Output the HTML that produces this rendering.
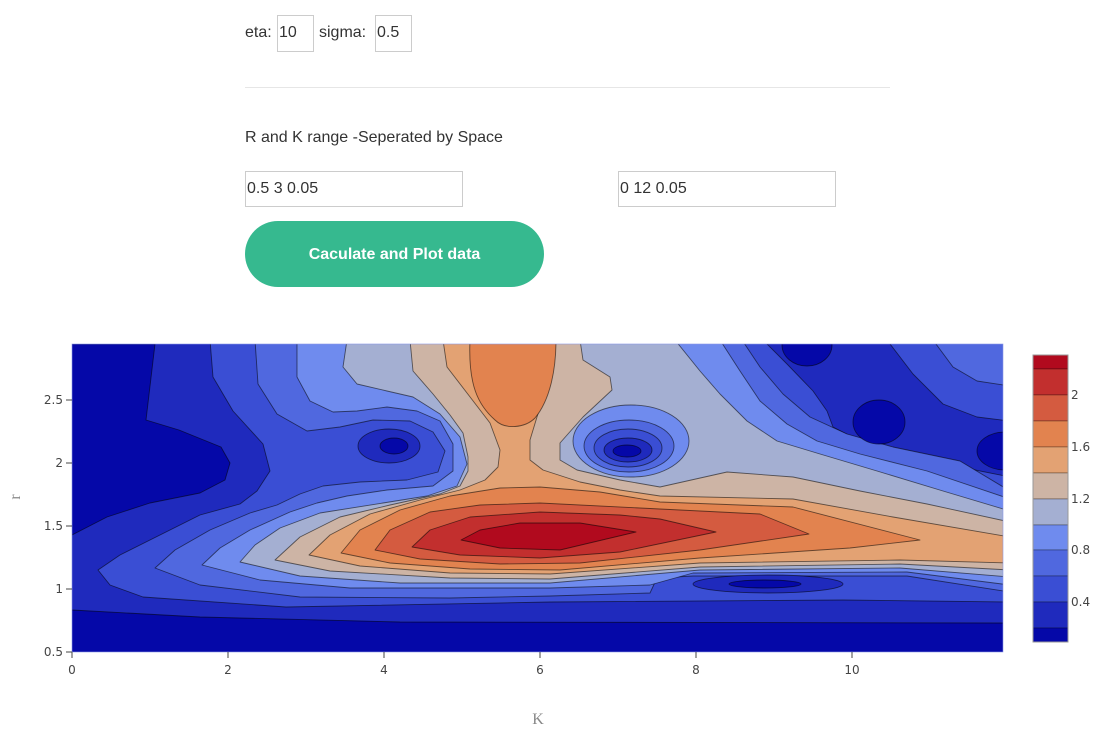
<!DOCTYPE html>
<html><head><meta charset="utf-8"><style>
body{margin:0;background:#fff;width:1111px;height:732px;overflow:hidden;position:relative;font-family:"Liberation Sans",Arial,sans-serif;color:#333}
.t{position:absolute;font-size:16px;white-space:nowrap}
.inp{position:absolute;border:1px solid #ccc;box-sizing:border-box;font-size:16px;color:#333;padding:0 1px;line-height:34px}
.btn{position:absolute;left:245px;top:221px;width:299px;height:66px;border-radius:33px;background:#36b98f;color:#fff;font-weight:bold;font-size:16px;text-align:center;line-height:68px}
svg{position:absolute;left:0;top:0}
</style></head><body>
<div class="t" style="left:245px;top:24px">eta:</div>
<div class="inp" style="left:277px;top:15px;width:37px;height:37px">10</div>
<div class="t" style="left:319px;top:24px">sigma:</div>
<div class="inp" style="left:375px;top:15px;width:37px;height:37px">0.5</div>
<div style="position:absolute;left:245px;top:87px;width:645px;height:1px;background:#e6e6e6"></div>
<div class="t" style="left:245px;top:129px">R and K range -Seperated by Space</div>
<div class="inp" style="left:245px;top:171px;width:218px;height:36px">0.5 3 0.05</div>
<div class="inp" style="left:618px;top:171px;width:218px;height:36px">0 12 0.05</div>
<div class="btn">Caculate and Plot data</div>

<svg width="1111" height="732" viewBox="0 0 1111 732">
<defs><clipPath id="c"><rect x="72" y="344" width="931" height="308"/></clipPath></defs>
<g clip-path="url(#c)" stroke="rgba(0,0,0,0.55)" stroke-width="0.9" stroke-linejoin="round">
<rect x="72" y="344" width="931" height="308" fill="#1f2abd" stroke="none"/>
<polygon fill="#0508a8" points="60,344 155,344 146,420 179,430 221,447 230,463 225,480 200,493 150,503 107,517 72,535 60,535"/>
<polygon fill="#0508a8" points="60,610 72,610 200,617 400,622 1010,623 1010,660 60,660"/>
<polygon fill="#3a4ed4" points="98,570 120,555 150,540 200,515 240,504 257,491 270,471 263,444 233,411 213,377 210,340 763,340 787,364 813,391 827,411 833,427 860,441 910,451 960,467 1010,477 1010,602 843,600 550,602 286,607 143,597 110,585"/>
<polygon fill="#3a4ed4" points="887,340 1010,340 1010,421 977,417 943,404 913,374"/>
<polygon fill="#5068df" points="155,568 175,550 210,530 250,513 277,505 300,494 323,486 360,482 407,480 438,472 445,451 433,432 410,421 373,420 340,427 307,431 277,414 258,384 255,340 742,340 760,367 783,394 810,417 847,434 893,447 960,461 1010,491 1010,592 907,576 693,576 657,578 650,593 550,596 450,598 300,597 200,585"/>
<polygon fill="#5068df" points="933,340 1010,340 1010,386 977,381 953,367"/>
<polygon fill="#6f8bee" points="202,565 220,548 250,530 290,512 317,503 347,496 387,490 433,486 453,471 453,444 440,421 417,411 387,407 357,411 333,412 310,401 297,377 297,340 720,340 740,371 760,401 787,424 817,441 860,454 927,471 1010,499 1010,585 907,572 693,573 650,585 550,588 350,588 260,580"/>
<polygon fill="#a4afd2" points="240,562 255,545 280,528 320,513 383,503 427,496 457,486 467,464 460,437 440,414 413,397 387,391 357,384 343,367 347,340 675,340 700,371 720,394 747,421 777,441 820,454 877,471 943,491 1010,511 1010,577 900,568 700,570 550,583 400,583 300,576"/>
<polygon fill="#cdb4a5" points="275,560 300,537 340,517 390,505 440,494 460,486 468,471 468,457 463,433 450,415 433,394 413,371 410,340 580,340 583,360 610,377 612,390 583,417 560,443 560,460 577,470 620,480 660,487 727,472 793,477 860,491 927,504 1010,522 1010,570 900,564 700,567 550,579 450,578 330,571"/>
<polygon fill="#e3a273" points="309,555 330,535 370,514 420,500 460,490 485,480 498,467 500,450 490,423 467,393 447,367 443,340 553,340 550,373 540,407 530,440 530,460 543,470 580,482 620,490 660,496 793,499 893,517 1010,537 1010,563 900,560 700,563 550,574 450,573 360,566"/>
<path fill="#e2834f" d="M470,340 L556,340 C556,370 550,400 535,418 C525,428 505,430 495,420 C478,405 468,385 470,340 Z"/>
<polygon fill="#e2834f" points="341,553 360,530 400,510 450,496 500,488 540,487 600,492 660,502 793,507 920,540 850,548 700,558 560,570 470,569 390,563"/>
<polygon fill="#d45b40" points="375,550 390,530 430,512 480,505 540,503 660,509 760,514 809,534 700,550 580,563 500,564 420,559"/>
<polygon fill="#c22f2e" points="412,547 430,530 470,517 540,512 620,515 660,519 716,532 620,552 540,558 460,555"/>
<polygon fill="#b10a1e" points="461,540 480,530 520,523 580,523 636,532 560,550 500,548"/>
<ellipse cx="389" cy="446" rx="31" ry="17" fill="#1f2abd"/>
<ellipse cx="394" cy="446" rx="14" ry="8" fill="#0508a8"/>
<ellipse cx="631" cy="441" rx="58" ry="36" fill="#6f8bee"/>
<ellipse cx="629" cy="446" rx="45" ry="26" fill="#5068df"/>
<ellipse cx="628" cy="448" rx="34" ry="19" fill="#3a4ed4"/>
<ellipse cx="628" cy="450" rx="24" ry="12" fill="#1f2abd"/>
<ellipse cx="627" cy="451" rx="14" ry="6" fill="#0508a8"/>
<ellipse cx="807" cy="345" rx="25" ry="21" fill="#0508a8"/>
<ellipse cx="879" cy="422" rx="26" ry="22" fill="#0508a8"/>
<ellipse cx="1005" cy="451" rx="28" ry="19" fill="#0508a8"/>
<ellipse cx="768" cy="584" rx="75" ry="9" fill="#1f2abd"/>
<ellipse cx="765" cy="584" rx="36" ry="4" fill="#0508a8"/>
</g>
<rect x="72" y="344" width="931" height="308" fill="none" stroke="#8c98e6" stroke-width="0.6"/>
<g stroke="#444" stroke-width="1">
<line x1="66" y1="400" x2="72" y2="400"/><line x1="66" y1="463" x2="72" y2="463"/><line x1="66" y1="526" x2="72" y2="526"/><line x1="66" y1="589" x2="72" y2="589"/><line x1="66" y1="652" x2="72" y2="652"/>
<line x1="72" y1="652" x2="72" y2="658"/><line x1="228" y1="652" x2="228" y2="658"/><line x1="384" y1="652" x2="384" y2="658"/><line x1="540" y1="652" x2="540" y2="658"/><line x1="696" y1="652" x2="696" y2="658"/><line x1="852" y1="652" x2="852" y2="658"/>
</g>
<g font-family="'DejaVu Sans',sans-serif" font-size="12" fill="#444" text-anchor="end">
<text x="63" y="404">2.5</text><text x="63" y="467">2</text><text x="63" y="530">1.5</text><text x="63" y="593">1</text><text x="63" y="656">0.5</text>
</g>
<g font-family="'DejaVu Sans',sans-serif" font-size="12" fill="#444" text-anchor="middle">
<text x="72" y="674">0</text><text x="228" y="674">2</text><text x="384" y="674">4</text><text x="540" y="674">6</text><text x="696" y="674">8</text><text x="852" y="674">10</text>
</g>
<text x="538" y="724" font-family="'Liberation Serif',serif" font-size="16" fill="#888" text-anchor="middle">K</text>
<text transform="translate(20,497) rotate(-90)" font-family="'Liberation Serif',serif" font-size="16" fill="#888" text-anchor="middle">r</text>
<g stroke="rgba(0,0,0,0.35)" stroke-width="0.8">
<rect x="1033" y="355" width="35" height="14" fill="#b10a1e"/>
<rect x="1033" y="369" width="35" height="26" fill="#c22f2e"/>
<rect x="1033" y="395" width="35" height="26" fill="#d45b40"/>
<rect x="1033" y="421" width="35" height="26" fill="#e2834f"/>
<rect x="1033" y="447" width="35" height="26" fill="#e3a273"/>
<rect x="1033" y="473" width="35" height="26" fill="#cdb4a5"/>
<rect x="1033" y="499" width="35" height="26" fill="#a4afd2"/>
<rect x="1033" y="525" width="35" height="25" fill="#6f8bee"/>
<rect x="1033" y="550" width="35" height="26" fill="#5068df"/>
<rect x="1033" y="576" width="35" height="26" fill="#3a4ed4"/>
<rect x="1033" y="602" width="35" height="26" fill="#1f2abd"/>
<rect x="1033" y="628" width="35" height="14" fill="#0508a8"/>
</g>
<rect x="1033" y="355" width="35" height="287" fill="none" stroke="#999" stroke-width="1"/>
<g font-family="'DejaVu Sans',sans-serif" font-size="12" fill="#444">
<text x="1071" y="399">2</text><text x="1071" y="451">1.6</text><text x="1071" y="503">1.2</text><text x="1071" y="554">0.8</text><text x="1071" y="606">0.4</text>
</g>
</svg>
</body></html>
